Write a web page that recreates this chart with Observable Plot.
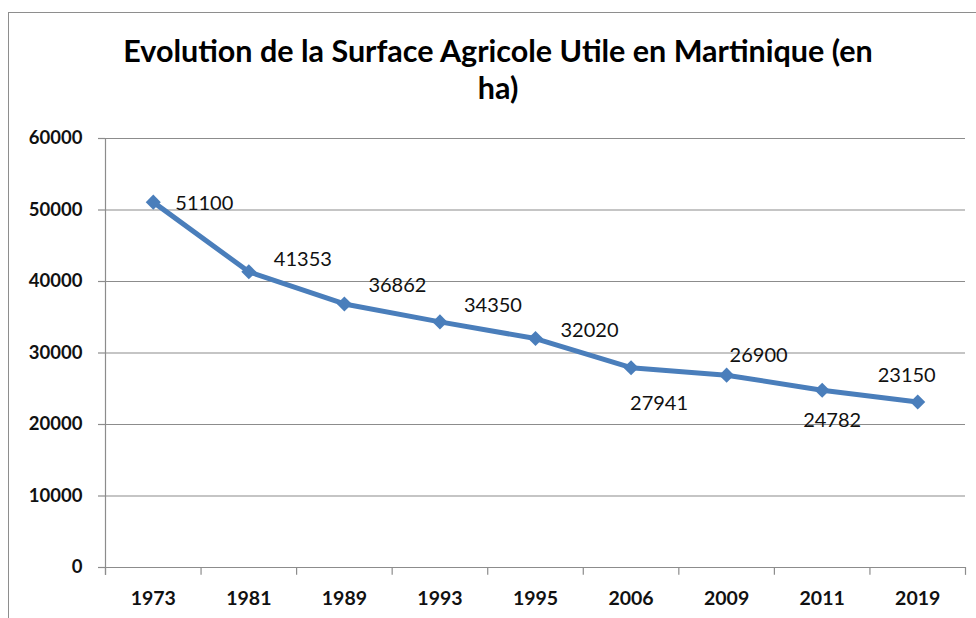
<!DOCTYPE html>
<html>
<head>
<meta charset="utf-8">
<script src="https://cdn.jsdelivr.net/npm/d3@7"></script>
<script src="https://cdn.jsdelivr.net/npm/@observablehq/plot@0.6"></script>
<style>
  html, body { margin: 0; padding: 0; background: #fff; }
  #wrap { position: relative; width: 976px; height: 618px; overflow: hidden; background: #fff; }
  #frame { position: absolute; left: 8px; top: 12px; width: 1000px; height: 700px; border: 1.5px solid #8e8e8e; box-sizing: border-box; }
  #title { position: relative; width: 996px; height: 88px; padding-top: 32px; text-align: center;
           font-family: Lato, sans-serif; font-weight: bold; font-size: 30.5px; line-height: 37px; color: #000; }
  #chart { position: relative; }
</style>
</head>
<body>
<div id="wrap">
  <div id="frame"></div>
  <div id="title">Evolution de la Surface Agricole Utile en Martinique (en<br>ha)</div>
  <div id="chart"></div>
</div>
<script>
const years = ["1973", "1981", "1989", "1993", "1995", "2006", "2009", "2011", "2019"];
const surface = [51100, 41353, 36862, 34350, 32020, 27941, 26900, 24782, 23150];
const yTicks = [0, 10000, 20000, 30000, 40000, 50000, 60000];

const rows = years.map((year, i) => ({i, year, value: surface[i]}));
const boundaries = d3.range(years.length + 1).map(k => k - 0.5);

// label placement (dx, dy in px) relative to each point
const labelOffsets = [[22, 1], [25, -12], [24, -18], [24, -16], [25, -8], [-1, 36], [3, -20], [-19, 30], [-40, -26]];

const blue = "#4a7ebb";
const gray = "#8c8c8c";

const labelMarks = rows.map((r, k) => Plot.text([r], {
  x: "i", y: "value", text: d => String(d.value),
  dx: labelOffsets[k][0], dy: labelOffsets[k][1],
  textAnchor: "start", fontSize: 20, fill: "#111", fontFamily: "Lato"
}));

const chart = Plot.plot({
  width: 976,
  height: 498,
  marginTop: 18,
  marginBottom: 51,
  marginLeft: 105,
  marginRight: 11,
  style: {fontFamily: "Lato, sans-serif", background: "transparent", overflow: "visible"},
  x: {type: "linear", domain: [-0.5, years.length - 0.5], ticks: d3.range(years.length),
      tickFormat: i => years[i], tickSize: 0, tickPadding: 24, label: null},
  y: {domain: [0, 60000], ticks: yTicks, tickFormat: d => String(d), tickSize: 7, tickPadding: 16, label: null},
  marks: [
    Plot.ruleY(yTicks, {stroke: gray, strokeWidth: 1.2}),
    Plot.ruleX([-0.5], {y1: -1100, y2: 60000, stroke: gray, strokeWidth: 1.2}),
    Plot.ruleX(boundaries, {y1: -1100, y2: 0, stroke: gray, strokeWidth: 1.2}),
    Plot.line(rows, {x: "i", y: "value", stroke: blue, strokeWidth: 5, strokeLinejoin: "round"}),
    Plot.dot(rows, {x: "i", y: "value", symbol: "diamond2", r: 6.8, fill: blue, stroke: "none"}),
    ...labelMarks
  ]
});

// style axis tick labels
d3.select(chart).selectAll("g[aria-label='y-axis tick label'] text, g[aria-label='x-axis tick label'] text")
  .attr("font-weight", "bold").attr("fill", "#111");
d3.select(chart).selectAll("g[aria-label='y-axis tick label']").attr("font-size", 18.5).attr("font-weight", "bold");
d3.select(chart).selectAll("g[aria-label='x-axis tick label']").attr("font-size", 19.5).attr("font-weight", "bold");
d3.select(chart).selectAll("g[aria-label='y-axis tick']").attr("stroke", gray).attr("stroke-width", 1.2);
document.getElementById("chart").appendChild(chart);
</script>
</body>
</html>
